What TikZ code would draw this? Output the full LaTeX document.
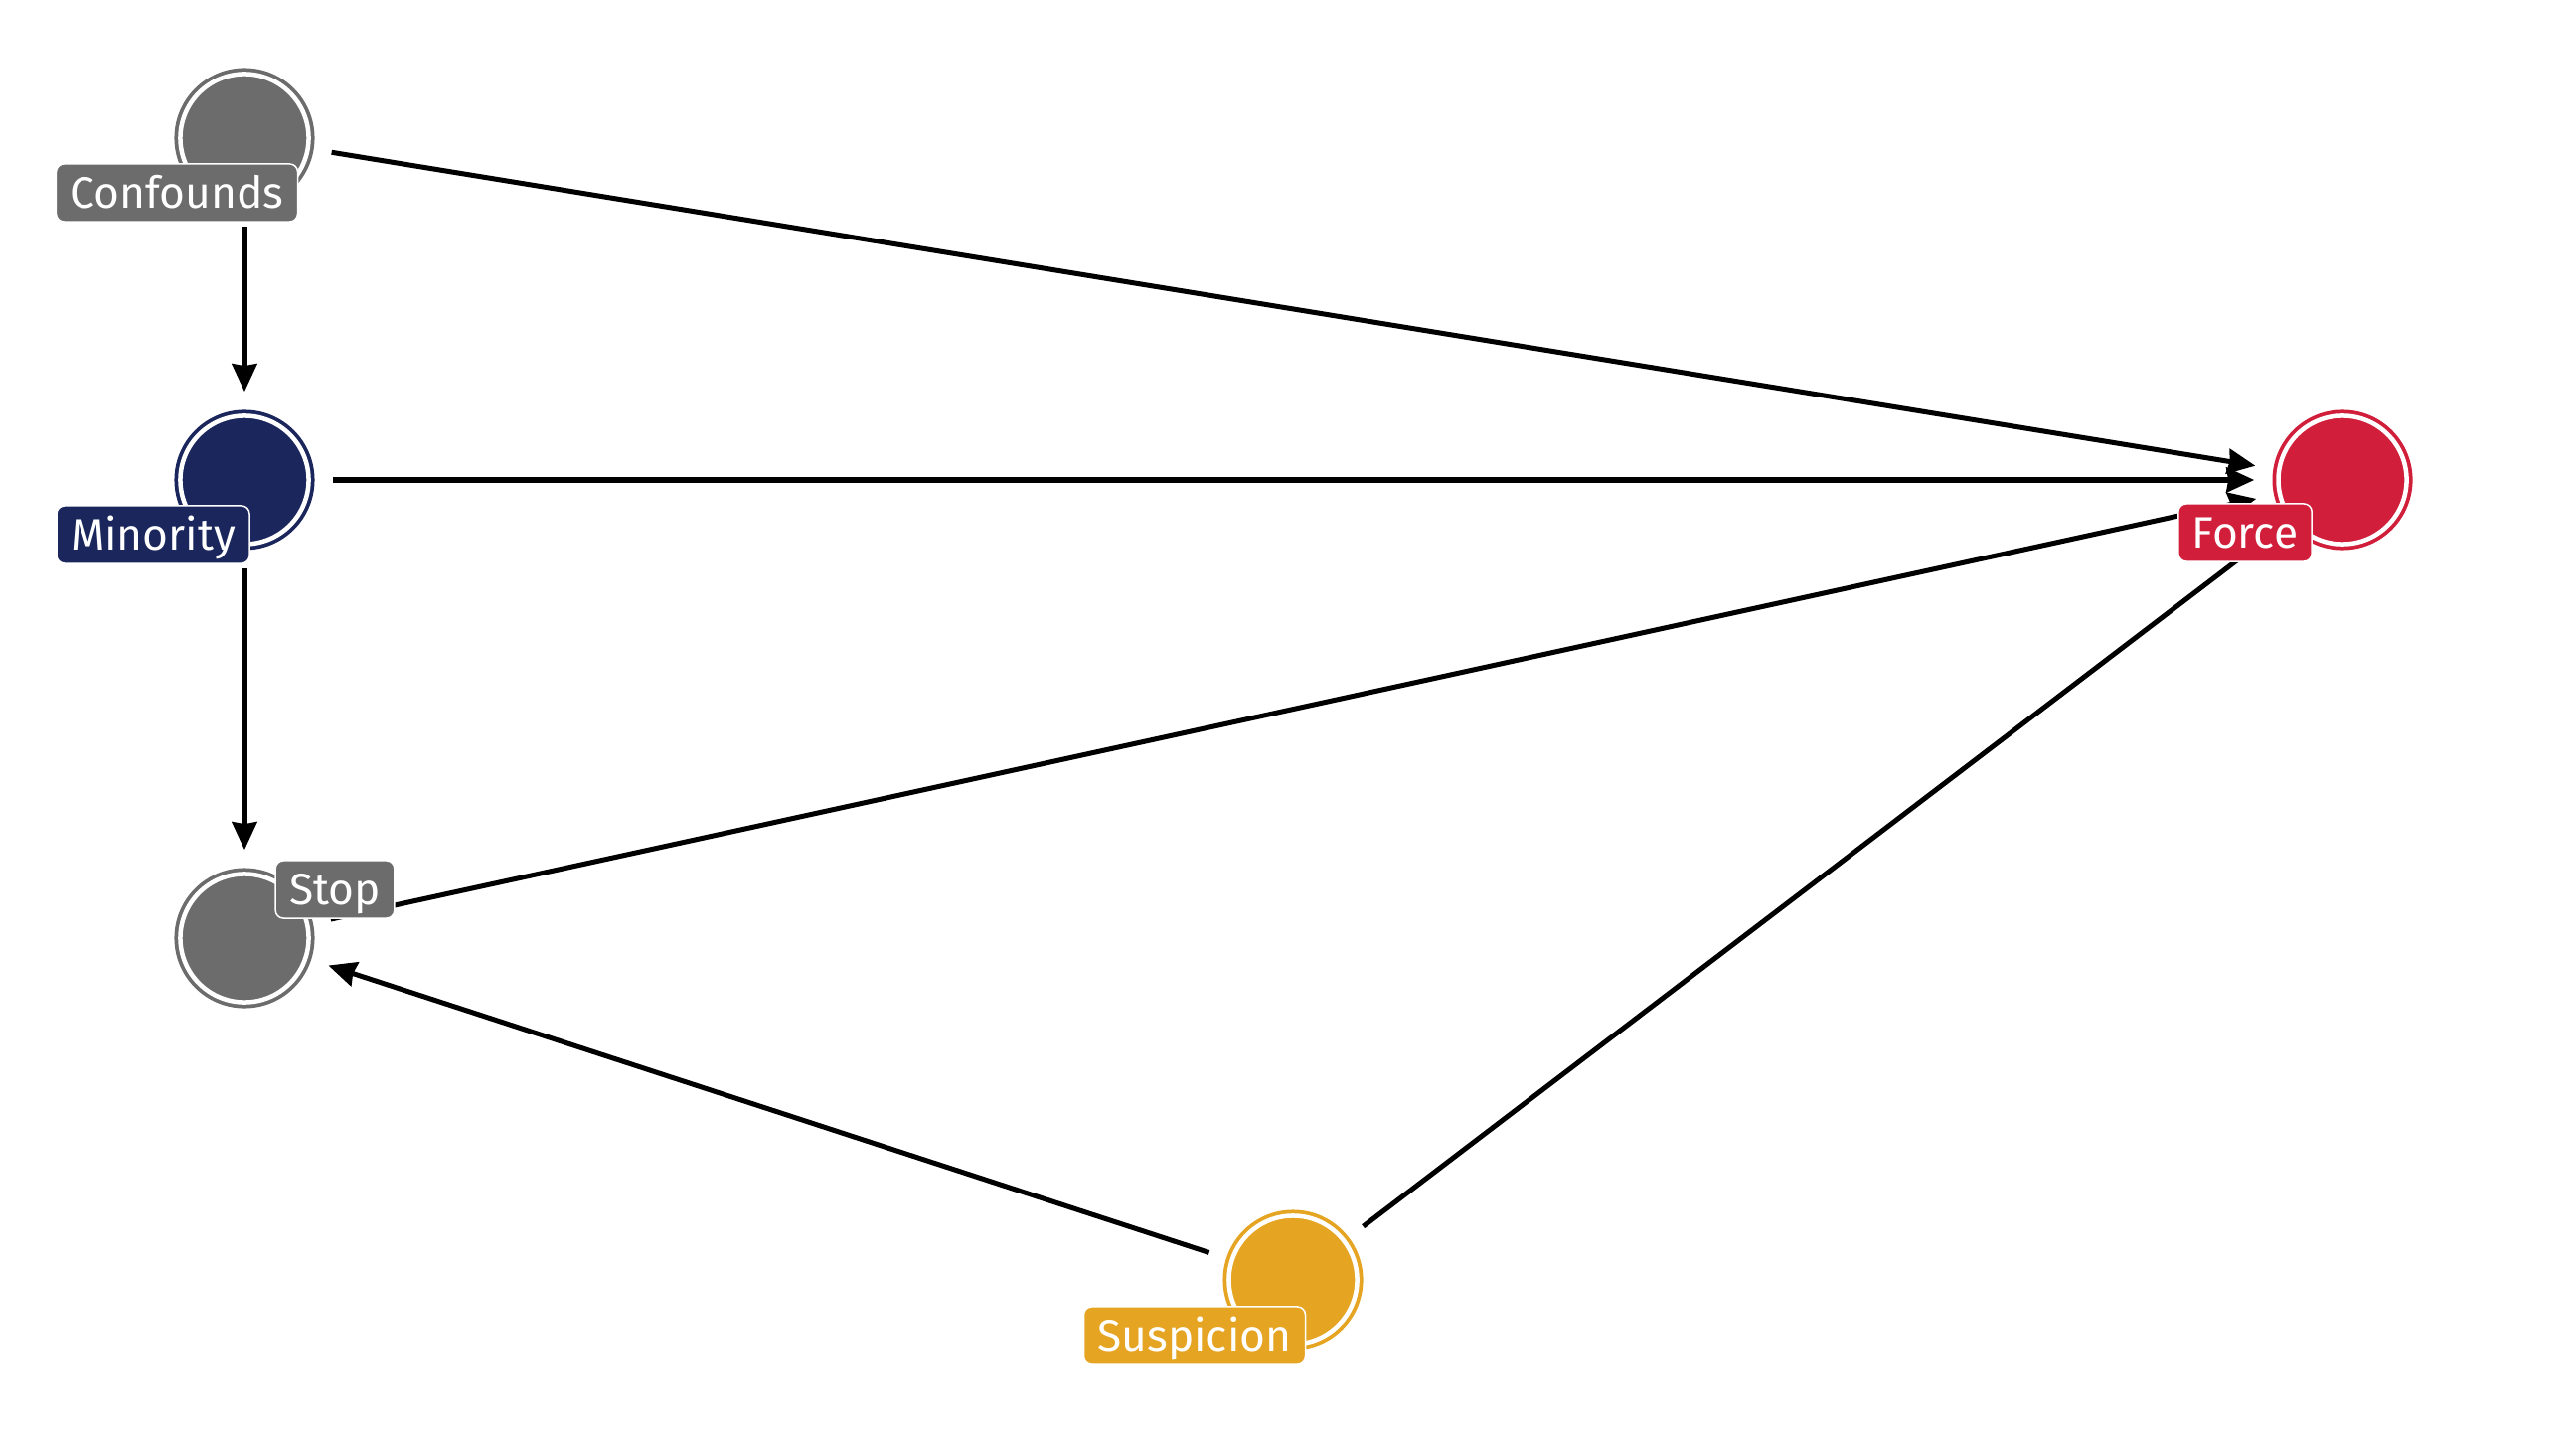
\documentclass[tikz,border=0pt]{standalone}
\usepackage{fontspec}
\setmainfont{Fira Sans}
\usetikzlibrary{arrows.meta}
\definecolor{confgray}{HTML}{6C6C6C}
\definecolor{minblue}{HTML}{1B275C}
\definecolor{forcered}{HTML}{D01E3B}
\definecolor{suspgold}{HTML}{E5A422}

\begin{document}
\begin{tikzpicture}[x=0.01cm, y=-0.01cm,
	dagnode/.style={circle, minimum size=1.29cm, inner sep=0pt, fill=#1, draw=white, line width=0.045cm, preaction={draw=#1, line width=0.12cm}},
	daglabel/.style={rectangle, rounded corners=0.08cm, fill=#1, draw=white, line width=0.015cm, text=white, font=\fontsize{12.6}{15}\selectfont, text height=0.445cm, text depth=0.135cm, inner xsep=0.14cm, inner ysep=0pt},
	dagedge/.style={-{Stealth[length=0.28cm, width=0.25cm, inset=0.02cm]}, line width=0.05cm, shorten <=0.22cm, shorten >=0.22cm}]
	\useasboundingbox (0,0) rectangle (2592,1440);
	\node[dagnode=confgray] (confounds) at (246,139) {};
	\node[dagnode=minblue] (minority) at (246,483) {};
	\node[dagnode=confgray] (stop) at (246,944) {};
	\node[dagnode=forcered] (force) at (2357,483) {};
	\node[dagnode=suspgold] (suspicion) at (1301,1288) {};
	\draw[dagedge] (confounds) -- (minority);
	\draw[dagedge] (confounds) -- (force);
	\draw[dagedge] (minority) -- (force);
	\draw[dagedge] (minority) -- (stop);
	\draw[dagedge] (stop) -- (force);
	\draw[dagedge] (suspicion) -- (stop);
	\draw[dagedge] (suspicion) -- (force);
	\node[daglabel=confgray] (confoundslab) at (178,194) {Confounds};
	\node[daglabel=minblue] (minoritylab) at (154,538) {Minority};
	\node[daglabel=confgray] (stoplab) at (337,895) {Stop};
	\node[daglabel=forcered] (forcelab) at (2259,536) {Force};
	\node[daglabel=suspgold] (suspicionlab) at (1202,1344) {Suspicion};
\end{tikzpicture}
\end{document}
